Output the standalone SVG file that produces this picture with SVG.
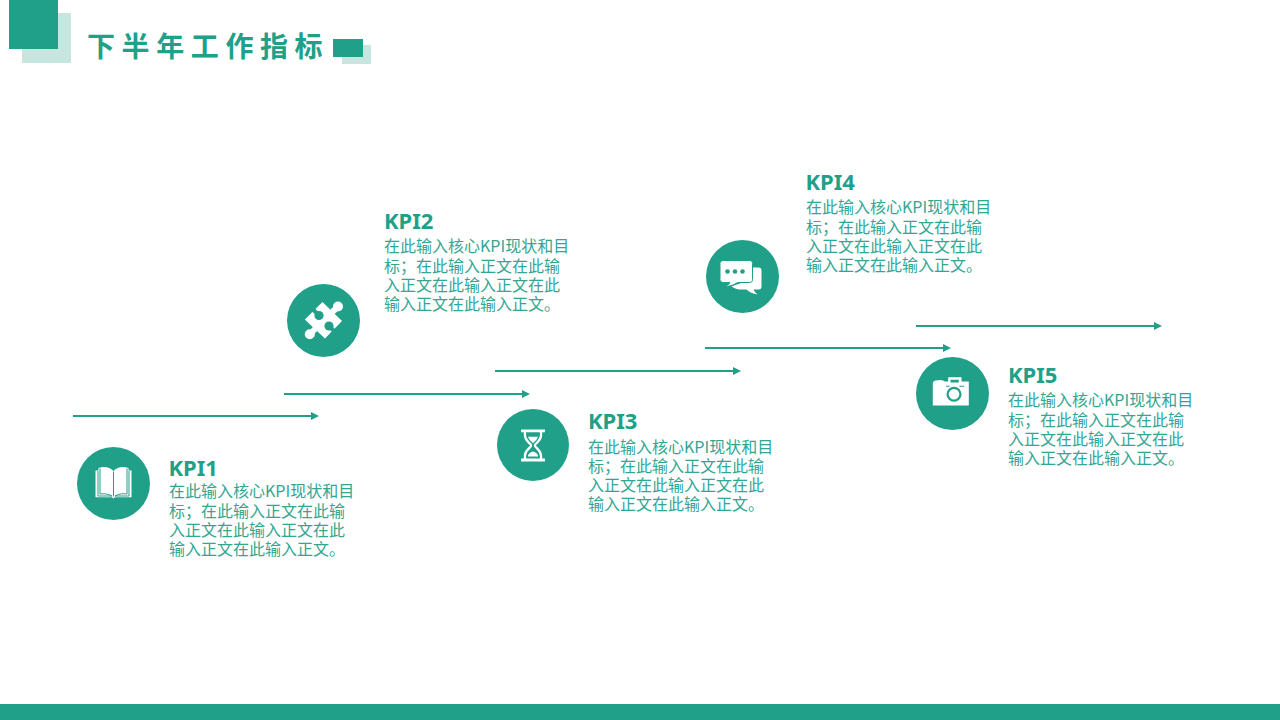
<svg xmlns="http://www.w3.org/2000/svg" width="1280" height="720" viewBox="0 0 1280 720">
<style>
.g{fill:#20a088}
.l{fill:#c7e6df}
.w{fill:#fff}
.s{fill:none;stroke:#20a088;stroke-width:1}
.c{stroke:#20a088;stroke-width:2;fill:none;marker-end:url(#arr)}
.h{font-family:"Noto Sans","Noto Sans CJK SC",sans-serif;font-weight:700;font-size:22px;fill:#20a088}
.b{font-family:"Noto Sans CJK SC","Noto Sans",sans-serif;font-size:16px;fill:#33a691}
.t{font-family:"Noto Sans CJK SC",sans-serif;font-weight:700;font-size:28px;letter-spacing:6.6px;fill:#20a088}
</style>
<defs>
<marker id="arr" markerUnits="userSpaceOnUse" markerWidth="9" markerHeight="8" refX="1" refY="4" orient="auto"><path d="M0 0L8 4L0 8Z" fill="#20a088"/></marker>
</defs>
<rect width="1280" height="720" fill="#fff"/>
<g id="header">
<rect class="l" x="22" y="13" width="49" height="50"/>
<rect class="g" x="9" y="0" width="49" height="49"/>
<rect class="l" x="342" y="45" width="29" height="19"/>
<rect class="g" x="333" y="39" width="30" height="18"/>
<text class="t" x="87" y="57">下半年工作指标</text>
</g>
<g id="connectors">
<path class="c" d="M73 416H312"/>
<path class="c" d="M284 394H523"/>
<path class="c" d="M495 371H734"/>
<path class="c" d="M705 348H944"/>
<path class="c" d="M916 326H1155"/>
</g>
<g id="kpi1">
<circle class="g" cx="113.5" cy="483.5" r="36.5"/>
<g transform="translate(113.5 483.500)">
<path class="w" d="M-18 -13H-15V-15.500C-10 -17.500 -4 -17 0 -12.500C4 -17 10 -17.500 15 -15.500V-13H18V13.700H1.500L0 15L-1.500 13.700H-18Z"/>
<path class="s" d="M-15.500 -12.500V12.500H-1.500C-6 10 -10 10 -13.500 10.500V-15M15.500 -12.500V12.500H1.500C6 10 10 10 13.500 10.500V-15M0 -12V13"/>
</g>
<text class="h" x="168.500" y="476">KPI1</text>
<text class="b"><tspan x="169" y="497">在此输入核心KPI现状和目</tspan><tspan x="169" y="516.500">标&#xFF1B;在此输入正文在此输</tspan><tspan x="169" y="535.800">入正文在此输入正文在此</tspan><tspan x="169" y="555">输入正文在此输入正文。</tspan></text>
</g>
<g id="kpi2">
<circle class="g" cx="323.500" cy="320.500" r="36.500"/>
<g transform="translate(323.500 320.500)">
<path class="w" d="M-18.700 -1L-1 -18.500L18.500 0.500L1.500 18Z"/>
<path d="M3 -3L14.500 -14M-3 3L-13.500 13.500" stroke="#fff" stroke-width="6" fill="none"/>
<circle class="w" cx="14.500" cy="-14" r="5"/>
<circle class="w" cx="-13.700" cy="13.700" r="5"/>
<circle class="g" cx="-4.500" cy="-5" r="4.600"/>
<circle class="g" cx="5.500" cy="5.500" r="4.600"/>
<path d="M-4.500 -5L-11 -11.500M5.500 5.500L12 12" stroke="#20a088" stroke-width="4" fill="none"/>
</g>
<text class="h" x="384" y="229">KPI2</text>
<text class="b"><tspan x="384" y="252">在此输入核心KPI现状和目</tspan><tspan x="384" y="272">标&#xFF1B;在此输入正文在此输</tspan><tspan x="384" y="291">入正文在此输入正文在此</tspan><tspan x="384" y="310">输入正文在此输入正文。</tspan></text>
</g>
<g id="kpi3">
<circle class="g" cx="533" cy="445" r="36"/>
<g transform="translate(533 445.500) scale(0.92)"><path class="w" fill-rule="evenodd" d="M-13 -17.500H13V-14.500H10V-12C10 -6 6 -3 3 0C6 3 10 6 10 12V14H13V17.500H-13V14H-10V12C-10 6 -6 3 -3 0C-6 -3 -10 -6 -10 -12V-14.500H-13ZM-7.500 -14.500V-12C-7.500 -7 -3 -4 -1 -1V1C-3 4 -7.500 7 -7.500 12V14H7.500V12C7.500 7 3 4 1 1V-1C3 -4 7.500 -7 7.500 -12V-14.500Z"/><path class="w" d="M-5.500 -9.500H5.500C4 -6 1.500 -4 0 -2.500C-1.500 -4 -4 -6 -5.500 -9.500ZM-5.500 12C-5.500 8.500 -2 7 0 6.500C2 7 5.500 8.500 5.500 12Z"/></g>
<text class="h" x="588" y="429">KPI3</text>
<text class="b"><tspan x="588" y="453">在此输入核心KPI现状和目</tspan><tspan x="588" y="472">标&#xFF1B;在此输入正文在此输</tspan><tspan x="588" y="491">入正文在此输入正文在此</tspan><tspan x="588" y="510">输入正文在此输入正文。</tspan></text>
</g>
<g id="kpi4">
<circle class="g" cx="742.500" cy="276.500" r="36.500"/>
<g transform="translate(742.500 276.500)">
<path class="w" d="M8 -9H16Q19 -9 19 -6V10Q19 13 16 13H11Q12 16 15 18Q8 17 4 13H-3Q-6 13 -11 10L0 6H8Z"/>
<path class="w" d="M-19 -16H7C9 -16 10 -15 10 -13V3C10 5 9 6 7 6H-5C-9 9 -14 10 -18.500 10C-15 9 -13 7.500 -12.500 6H-19C-21 6 -22.500 5 -22.500 3V-13C-22.500 -15 -21 -16 -19 -16Z" stroke="#20a088" stroke-width="1"/>
<circle class="g" cx="-15" cy="-5" r="2.300"/><circle class="g" cx="-7.500" cy="-5" r="2.300"/><circle class="g" cx="0" cy="-5" r="2.300"/>
</g>
<text class="h" x="805.500" y="190">KPI4</text>
<text class="b"><tspan x="806" y="213">在此输入核心KPI现状和目</tspan><tspan x="806" y="233">标&#xFF1B;在此输入正文在此输</tspan><tspan x="806" y="252">入正文在此输入正文在此</tspan><tspan x="806" y="271">输入正文在此输入正文。</tspan></text>
</g>
<g id="kpi5">
<circle class="g" cx="952.500" cy="393.500" r="36.500"/>
<g transform="translate(952.500 393.500)">
<path class="w" d="M-19.700 -10Q-19.700 -12.500 -17 -13L-12 -13.500Q-9 -13.500 -8 -12H-4.300V-16.300H9V-12H16.300V12H-19.700Z"/>
<path class="g" d="M-2 -13.700H6.300V-11H-2ZM-6.500 -7.700H-3V-6.700H-6.500ZM7 -7.700H11.500V-6.700H7Z"/>
<circle class="g" cx="1.500" cy="0.700" r="7.500"/>
<circle class="w" cx="1.500" cy="0.700" r="5.300"/>
</g>
<text class="h" x="1008" y="383">KPI5</text>
<text class="b"><tspan x="1008" y="406">在此输入核心KPI现状和目</tspan><tspan x="1008" y="426">标&#xFF1B;在此输入正文在此输</tspan><tspan x="1008" y="445">入正文在此输入正文在此</tspan><tspan x="1008" y="464">输入正文在此输入正文。</tspan></text>
</g>
<rect id="footer" class="g" x="0" y="704" width="1280" height="16"/>
</svg>
